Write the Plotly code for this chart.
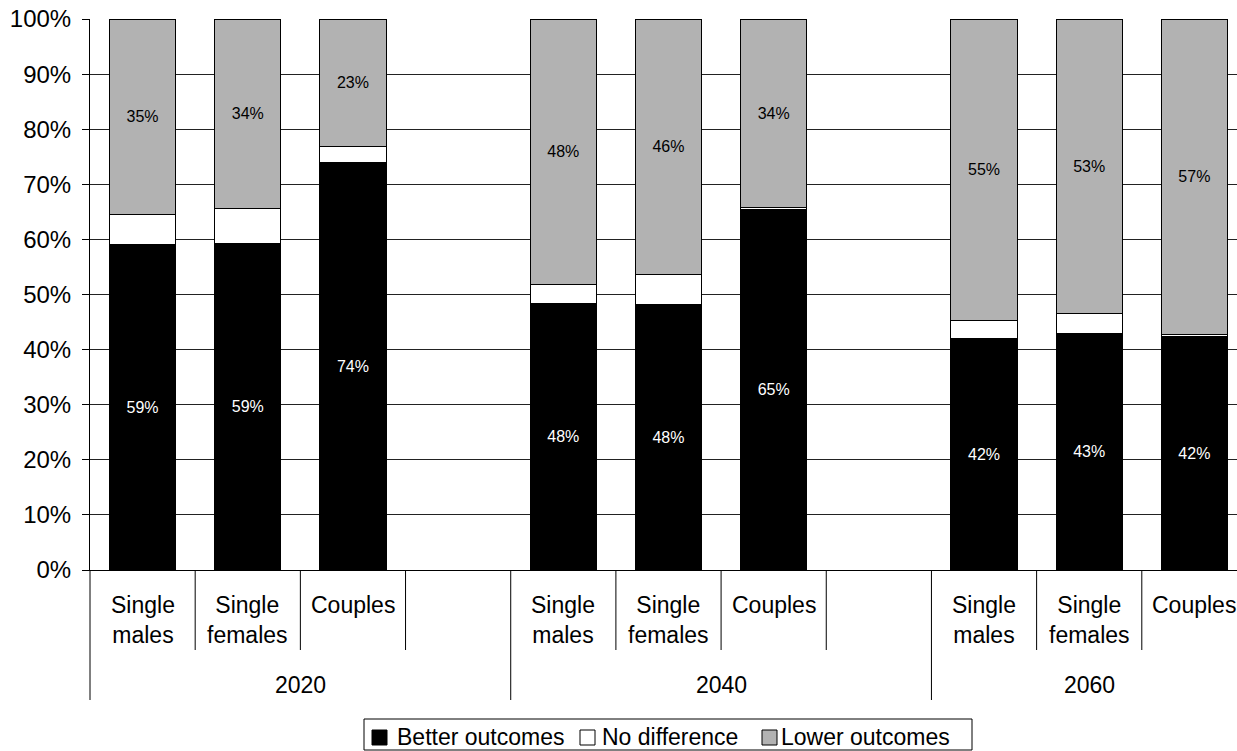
import plotly.graph_objects as go

# ---- data -------------------------------------------------------------
years = ["2020", "2040", "2060"]
households = ["Single<br>males", "Single<br>females", "Couples"]
series_names = ["Better outcomes", "No difference", "Lower outcomes"]

# share of each household type (percent), ordered 2020, 2040, 2060
better = [59.0, 59.2, 73.9, 48.4, 48.1, 65.4, 42.1, 43.0, 42.4]
no_difference = [5.6, 6.4, 3.0, 3.4, 5.6, 0.4, 3.1, 3.6, 0.3]
lower = [35.4, 34.4, 23.1, 48.2, 46.3, 34.2, 54.8, 53.4, 57.3]

y_ticks = list(range(0, 101, 10))

# ---- layout geometry --------------------------------------------------
W, H = 1237, 751
M_L, M_T, M_B = 90, 19, 181
PLOT_TOP, PLOT_BOTTOM = M_T, H - M_B
PLOT_W = W - M_L
SLOT_PX = 105.18                 # width of one category slot
SLOTS_PER_YEAR = 4               # three households plus a spacer
N_SLOTS = SLOTS_PER_YEAR * len(years) - 1
X_MAX = -0.5 + PLOT_W / SLOT_PX

FONT = "Arial, 'Liberation Sans', sans-serif"
colors = ["#000000", "#ffffff", "#b2b2b2"]
label_colors = ["#ffffff", None, "#000000"]


def ypx(py):
    """pixel row -> paper y"""
    return (PLOT_BOTTOM - py) / (PLOT_BOTTOM - PLOT_TOP)


def xpx(px):
    """pixel column -> paper x"""
    return (px - M_L) / PLOT_W


slots = [g * SLOTS_PER_YEAR + k for g in range(len(years)) for k in range(len(households))]

fig = go.Figure()
for name, vals, col, lab in zip(series_names, [better, no_difference, lower], colors, label_colors):
    kw = {}
    if lab:
        kw = dict(texttemplate="%{y:.0f}%", textposition="inside",
                  insidetextanchor="middle", textangle=0,
                  textfont=dict(family=FONT, size=16, color=lab))
    fig.add_trace(go.Bar(
        x=slots, y=vals, name=name, width=0.63,
        marker=dict(color=col, line=dict(color="#000000", width=1)),
        showlegend=False, hoverinfo="skip", **kw))

# ---- category axis: household labels, year labels, dividers -----------
annotations = []
shapes = []
for g, yr in enumerate(years):
    start = g * SLOTS_PER_YEAR - 0.5
    end = min(start + SLOTS_PER_YEAR, N_SLOTS - 0.5)
    annotations.append(dict(x=(start + end) / 2, y=ypx(685), xref="x", yref="paper",
                            text=yr, showarrow=False, yanchor="middle",
                            font=dict(family=FONT, size=23, color="#000")))
    for k, hh in enumerate(households):
        s = g * SLOTS_PER_YEAR + k
        annotations.append(dict(x=s, y=ypx(590), xref="x", yref="paper",
                                text=hh, showarrow=False, yanchor="top",
                                align="center",
                                font=dict(family=FONT, size=23, color="#000")))
    # short dividers between household slots
    for k in range(SLOTS_PER_YEAR - 1):
        b = start + k + 1
        if b < N_SLOTS - 0.5:
            shapes.append(dict(type="line", xref="x", yref="paper", x0=b, x1=b,
                               y0=0, y1=ypx(650), line=dict(color="#000", width=1)))
    # long divider between years
    if g > 0:
        shapes.append(dict(type="line", xref="x", yref="paper", x0=start, x1=start,
                           y0=0, y1=ypx(700), line=dict(color="#000", width=1)))
shapes.append(dict(type="line", xref="paper", yref="paper", x0=0, x1=0,
                   y0=0, y1=ypx(700), line=dict(color="#000", width=1)))

# ---- legend box ------------------------------------------------------
shapes.append(dict(type="rect", xref="paper", yref="paper",
                   x0=xpx(364), x1=xpx(972), y0=ypx(719), y1=ypx(750),
                   line=dict(color="#000", width=1), fillcolor="#fff"))
leg_sq = [372, 580, 762]
leg_tx = [395, 600, 779]
for name, col, sx, tx in zip(series_names, colors, leg_sq, leg_tx):
    shapes.append(dict(type="rect", xref="paper", yref="paper",
                       x0=xpx(sx), x1=xpx(sx + 15), y0=ypx(745), y1=ypx(730),
                       line=dict(color="#000", width=1), fillcolor=col))
    annotations.append(dict(x=xpx(tx), y=ypx(737), xref="paper", yref="paper",
                            text=name, showarrow=False, xanchor="left",
                            yanchor="middle",
                            font=dict(family=FONT, size=23, color="#000")))

fig.update_layout(
    width=W, height=H, autosize=False,
    margin=dict(l=M_L, r=0, t=M_T, b=M_B, pad=0),
    barmode="stack",
    plot_bgcolor="#ffffff", paper_bgcolor="#ffffff",
    font=dict(family=FONT, size=23, color="#000"),
    xaxis=dict(range=[-0.5, X_MAX], showticklabels=False, showgrid=False,
               zeroline=False, showline=True, linecolor="#000", linewidth=1,
               ticks=""),
    yaxis=dict(range=[0, 100], tickvals=y_ticks,
               ticktext=[f"{v}%" for v in y_ticks],
               ticks="outside", ticklen=7, tickcolor="#000",
               ticklabelstandoff=6,
               showline=True, linecolor="#000", linewidth=1,
               showgrid=True, gridcolor="#222", gridwidth=1, zeroline=False,
               tickfont=dict(family=FONT, size=24, color="#000")),
    annotations=annotations,
    shapes=shapes,
)

fig.write_html("out.html")
